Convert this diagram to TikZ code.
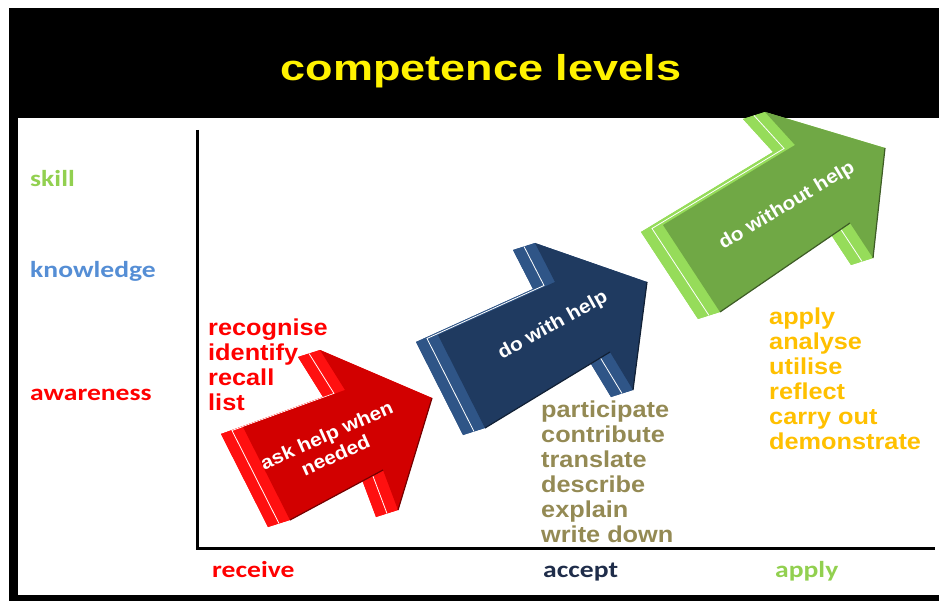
\documentclass[tikz,border=0pt]{standalone}
\usepackage{fontspec}
\setmainfont{Liberation Sans}
\newfontfamily\listfont[FakeStretch=1.1]{Liberation Sans}
\newfontfamily\titlefont[FakeStretch=1.25]{Liberation Sans}
\newfontfamily\levelfont[FakeStretch=1.2]{Carlito}
\usetikzlibrary{calc}

\begin{document}
\begin{tikzpicture}[
    x=1pt,y=-1pt,
    verb/.style={anchor=base west,inner sep=0pt,font=\listfont\bfseries\fontsize{23}{25}\selectfont},
    level/.style={anchor=base west,inner sep=0pt,font=\levelfont\bfseries\fontsize{23}{25}\selectfont},
    armtext/.style={text=white,align=center,inner sep=0pt,font=\listfont\bfseries\fontsize{19}{22}\selectfont},
    axis/.style={line width=3pt}
  ]
  \definecolor{awarecol}{HTML}{FF0000}
  \definecolor{knowcol}{HTML}{558ED5}
  \definecolor{skillcol}{HTML}{92D050}
  \definecolor{acceptcol}{HTML}{1F2D4A}
  \definecolor{helpcol}{HTML}{948A54}
  \definecolor{selfcol}{HTML}{FFC000}
  \definecolor{redfront}{HTML}{D20000}
  \definecolor{redside}{HTML}{FF1010}
  \definecolor{navyfront}{HTML}{1F3A60}
  \definecolor{navyside}{HTML}{2F5587}
  \definecolor{greenfront}{HTML}{70A845}
  \definecolor{greenside}{HTML}{96DC5A}
  \useasboundingbox (0,0) rectangle (939,601);

  % frame and title bar
  \fill[black] (9,8) rectangle (939,118);
  \fill[black] (9,8) rectangle (18,601);
  \fill[black] (9,595) rectangle (939,601);
  \node[inner sep=0pt,text=yellow,font=\titlefont\bfseries\fontsize{36}{40}\selectfont] (title) at (481,71) {competence levels};

  % axes
  \coordinate (top) at (197,130);
  \coordinate (origin) at (197,548);
  \coordinate (end) at (935,548);
  \draw[axis] (top) -- (origin) -- (end);

  % levels
  \node[level,text=skillcol] (skill) at (30,187) {skill};
  \node[level,text=knowcol] (knowledge) at (30,278) {knowledge};
  \node[level,text=awarecol] (awareness) at (30,400) {awareness};
  \node[level,text=awarecol] (receive) at (212,577) {receive};
  \node[level,text=acceptcol] (accept) at (543,577) {accept};
  \node[level,text=skillcol] (apply) at (775,577) {apply};

  % block arrows: front face corners, tail top first
  \coordinate (ext) at (-22,7);
  \coordinate (r1) at (243,427); \coordinate (r2) at (345,390);
  \coordinate (r3) at (320,350); \coordinate (r4) at (432,398);
  \coordinate (r5) at (398,510); \coordinate (r6) at (383,470);
  \coordinate (r7) at (290,520);
  \coordinate (n1) at (438,335); \coordinate (n2) at (555,282);
  \coordinate (n3) at (535,243); \coordinate (n4) at (647,282);
  \coordinate (n5) at (633,390); \coordinate (n6) at (610,352);
  \coordinate (n7) at (485,428);
  \coordinate (g1) at (663,225); \coordinate (g2) at (795,145);
  \coordinate (g3) at (765,112); \coordinate (g4) at (885,148);
  \coordinate (g5) at (873,258); \coordinate (g6) at (850,223);
  \coordinate (g7) at (720,312);
  \def\blockarrow#1#2#3{%
    \fill[#2] ($(#11)+(ext)$) \foreach \i in {2,...,7}{ -- ($(#1\i)+(ext)$)} -- cycle;
    \foreach \i [remember=\i as \h (initially 7)] in {1,...,7}
      \fill[#2] (#1\h) -- (#1\i) -- ($(#1\i)+(ext)$) -- ($(#1\h)+(ext)$) -- cycle;
    \draw[white,line width=.8pt] ($(#17)+.5*(ext)$) -- ($(#11)+.5*(ext)$)
      -- ($(#12)+.5*(ext)$) -- ($(#13)+.5*(ext)$);
    \draw[white,line width=.8pt] ($(#16)+.5*(ext)$) -- ($(#15)+.5*(ext)$);
    \fill[#3] (#11) \foreach \i in {2,...,7}{ -- (#1\i)} -- cycle;
    \draw[#3!55!black,line width=1.2pt] (#17) -- (#16) (#15) -- (#14);
  }
  \blockarrow{r}{redside}{redfront}
  \blockarrow{n}{navyside}{navyfront}
  \blockarrow{g}{greenside}{greenfront}
  \node[armtext,rotate=24] (asktext) at (331,445) {ask help when\\needed};
  \node[armtext,rotate=29] (withtext) at (553,326) {do with help};
  \node[armtext,rotate=31] (withouttext) at (787,206) {do without help};

  % verbs
  \foreach \w [count=\k from 0] in {recognise,identify,recall,list}
    \node[verb,text=awarecol] (aware\k) at (208,335+25*\k) {\w};
  \foreach \w [count=\k from 0] in {participate,contribute,translate,describe,explain,write down}
    \node[verb,text=helpcol] (help\k) at (541,417+25*\k) {\w};
  \foreach \w [count=\k from 0] in {apply,analyse,utilise,reflect,carry out,demonstrate}
    \node[verb,text=selfcol] (self\k) at (769,324+25*\k) {\w};
\end{tikzpicture}
\end{document}
